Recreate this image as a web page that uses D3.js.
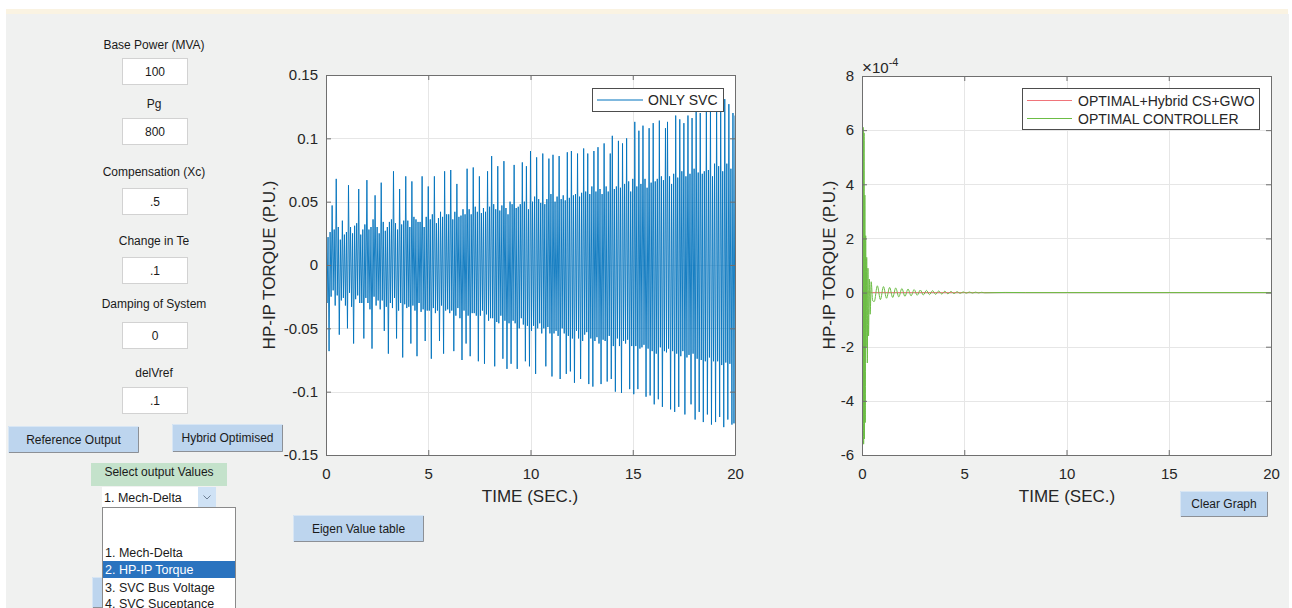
<!DOCTYPE html>
<html>
<head>
<meta charset="utf-8">
<script src="https://cdn.jsdelivr.net/npm/d3@7"></script>
<style>
  html, body { margin: 0; padding: 0; background: #ffffff; }
  svg { display: block; font-family: "Liberation Sans", Arial, Helvetica, sans-serif; }
</style>
</head>
<body>
<svg id="chart" width="1292" height="608"></svg>
<script>
// ---------------- DATA ----------------
// Left axes: ONLY SVC, HP-IP torque (p.u.), sampled every 0.05 s from 0 to 20 s
const svcTimeStep = 0.05;
const svcValues = [
  0.057,-0.030,0.022,-0.068,0.026,-0.025,0.047,-0.020,0.028,-0.032,0.068,-0.024,0.030,-0.055,0.020,-0.028,0.035,-0.026,0.024,-0.032,
  0.026,-0.050,0.063,-0.022,0.030,-0.033,0.025,-0.062,0.031,-0.027,0.033,-0.024,0.060,-0.030,0.024,-0.030,0.028,-0.058,0.032,-0.026,
  0.067,-0.030,0.028,-0.035,0.030,-0.066,0.036,-0.025,0.055,-0.032,0.030,-0.028,0.025,-0.035,0.065,-0.028,0.034,-0.052,0.027,-0.033,
  0.030,-0.070,0.034,-0.030,0.036,-0.034,0.074,-0.026,0.033,-0.058,0.028,-0.036,0.060,-0.030,0.032,-0.073,0.035,-0.031,0.070,-0.034,
  0.035,-0.033,0.030,-0.062,0.066,-0.032,0.038,-0.036,0.036,-0.072,0.034,-0.030,0.034,-0.037,0.070,-0.035,0.030,-0.060,0.038,-0.036,
  0.062,-0.036,0.036,-0.074,0.040,-0.034,0.070,-0.038,0.033,-0.036,0.037,-0.060,0.042,-0.032,0.038,-0.070,0.074,-0.036,0.040,-0.035,
  0.040,-0.038,0.075,-0.036,0.036,-0.068,0.042,-0.040,0.064,-0.034,0.038,-0.042,0.039,-0.075,0.044,-0.036,0.040,-0.062,0.076,-0.040,
  0.044,-0.072,0.040,-0.038,0.077,-0.038,0.046,-0.040,0.042,-0.076,0.070,-0.040,0.041,-0.036,0.045,-0.078,0.042,-0.039,0.074,-0.044,
  0.046,-0.042,0.086,-0.042,0.048,-0.080,0.044,-0.045,0.078,-0.046,0.043,-0.040,0.047,-0.074,0.082,-0.044,0.045,-0.082,0.040,-0.046,
  0.050,-0.078,0.048,-0.044,0.079,-0.046,0.045,-0.082,0.046,-0.050,0.048,-0.042,0.081,-0.047,0.050,-0.076,0.078,-0.048,0.044,-0.080,
  0.090,-0.052,0.050,-0.048,0.054,-0.086,0.085,-0.050,0.052,-0.046,0.049,-0.054,0.088,-0.050,0.048,-0.080,0.052,-0.049,0.084,-0.054,
  0.056,-0.088,0.087,-0.054,0.050,-0.052,0.054,-0.056,0.086,-0.090,0.052,-0.050,0.055,-0.054,0.051,-0.086,0.089,-0.056,0.053,-0.084,
  0.090,-0.058,0.055,-0.093,0.056,-0.052,0.088,-0.058,0.054,-0.090,0.057,-0.060,0.092,-0.055,0.058,-0.053,0.088,-0.094,0.056,-0.058,
  0.062,-0.096,0.090,-0.060,0.058,-0.057,0.093,-0.062,0.060,-0.094,0.056,-0.059,0.096,-0.060,0.062,-0.092,0.058,-0.056,0.088,-0.090,
  0.102,-0.064,0.060,-0.100,0.062,-0.058,0.098,-0.064,0.061,-0.101,0.096,-0.060,0.064,-0.062,0.100,-0.059,0.066,-0.098,0.058,-0.064,
  0.068,-0.102,0.113,-0.064,0.062,-0.098,0.106,-0.066,0.064,-0.065,0.110,-0.063,0.068,-0.104,0.061,-0.066,0.108,-0.103,0.065,-0.068,
  0.112,-0.110,0.066,-0.070,0.068,-0.106,0.114,-0.065,0.070,-0.112,0.067,-0.068,0.108,-0.069,0.113,-0.066,0.070,-0.114,0.064,-0.068,
  0.072,-0.116,0.118,-0.070,0.069,-0.112,0.115,-0.072,0.074,-0.068,0.112,-0.118,0.070,-0.073,0.118,-0.071,0.072,-0.110,0.116,-0.070,
  0.076,-0.122,0.124,-0.074,0.073,-0.116,0.120,-0.075,0.072,-0.124,0.074,-0.076,0.122,-0.118,0.075,-0.073,0.124,-0.126,0.070,-0.076,
  0.080,-0.124,0.128,-0.076,0.078,-0.120,0.126,-0.079,0.074,-0.128,0.131,-0.077,0.080,-0.122,0.127,-0.078,0.076,-0.126,0.120,-0.125,
  0.118
];

// Right axes (values in units of 1e-4 p.u.)
const optGreenTime = [0,0.02,0.04,0.06,0.08,0.10,0.12,0.14,0.16,0.18,0.20,0.23,0.26,0.29,0.32,0.36,0.40,0.45,0.52,
  0.60,0.75,0.90,1.05,1.20,1.35,1.50,1.65,1.80,1.95,2.10,2.25,2.40,2.55,2.70,2.85,3.00,3.15,3.30,3.45,3.60,3.75,3.90,4.05,4.20,4.35,4.50,4.65,4.80,4.95,5.10,5.25,5.40,5.55,5.70,5.85,6.00,
  7.0,8.0,20.0];
const optGreenValues = [0,4.5,-4.2,6.1,-5.6,5.9,-5.4,3.6,-4.8,2.1,-2.0,1.3,-2.6,0.9,-1.6,0.5,-0.8,0.4,-0.3,
  -0.33,0.25,-0.26,0.22,-0.21,0.19,-0.18,0.17,-0.16,0.15,-0.14,0.13,-0.12,0.11,-0.10,0.095,-0.09,0.08,-0.075,0.07,-0.065,0.06,-0.055,0.05,-0.045,0.04,-0.036,0.032,-0.028,0.025,-0.022,0.02,-0.017,0.015,-0.012,0.01,-0.008,
  0.004,0,0];
const hybridRedTime = [0,0.1,0.2,0.3,0.5,20];
const hybridRedValues = [0,0.05,-0.04,0.02,0,0];

const leftYTicks = [-0.15,-0.1,-0.05,0,0.05,0.1,0.15];
const rightYTicks = [-6,-4,-2,0,2,4,6,8];
const xTicks = [0,5,10,15,20];

const inputLabels = ["Base Power (MVA)","Pg","Compensation (Xc)","Change in Te","Damping of System","delVref"];
const inputValues = ["100","800",".5",".1","0",".1"];
const listItems = ["1. Mech-Delta","2. HP-IP Torque","3. SVC Bus Voltage","4. SVC Suceptance"];

// ---------------- DRAW ----------------
const svg = d3.select("#chart");
const FONT = '"Liberation Sans", Arial, Helvetica, sans-serif';
const TXT = "#262626";

// background
svg.append("rect").attr("x",0).attr("y",0).attr("width",1292).attr("height",608).attr("fill","#ffffff");
svg.append("rect").attr("x",6).attr("y",9).attr("width",1282).attr("height",5).attr("fill","#faf3e2");
svg.append("rect").attr("x",6).attr("y",14).attr("width",1283).attr("height",594).attr("fill","#f0f1f0");

// ---- left controls ----
const labelY = [45,104,172,241,304,373];
const boxY = [58,118,188,257,322,387];
inputLabels.forEach((t,i)=>{
  svg.append("text").attr("x",154).attr("y",labelY[i]+4).attr("text-anchor","middle")
    .attr("font-size",12).attr("fill","#1a1a1a").text(t);
  svg.append("rect").attr("x",122.5).attr("y",boxY[i]+0.5).attr("width",65).attr("height",26)
    .attr("fill","#ffffff").attr("stroke","#d2d2d2");
  svg.append("text").attr("x",155).attr("y",boxY[i]+17.5).attr("text-anchor","middle")
    .attr("font-size",12).attr("fill","#1a1a1a").text(inputValues[i]);
});

function button(x,y,w,h,label){
  const g = svg.append("g");
  g.append("rect").attr("x",x).attr("y",y).attr("width",w).attr("height",h).attr("fill","#bdd5ee");
  g.append("path").attr("d",`M${x},${y+h-0.5}H${x+w-0.5}V${y}`).attr("fill","none").attr("stroke","#8c9096").attr("stroke-width",1);
  g.append("path").attr("d",`M${x+0.5},${y+h}V${y+0.5}H${x+w}`).attr("fill","none").attr("stroke","#d8e6f4").attr("stroke-width",1);
  if(label) g.append("text").attr("x",x+w/2).attr("y",y+h/2+4.3).attr("text-anchor","middle")
    .attr("font-size",12).attr("fill","#1a1a1a").text(label);
}
button(8,426,131,27,"Reference Output");
button(172,424,111,28,"Hybrid Optimised");
button(293,515,131,27,"Eigen Value table");
button(1180,491,88,26,"Clear Graph");
button(92,577,20,31,"");

// select output values
svg.append("rect").attr("x",91).attr("y",463).attr("width",136).attr("height",23).attr("fill","#c4e2cb");
svg.append("text").attr("x",159).attr("y",476).attr("text-anchor","middle").attr("font-size",12).attr("fill","#1a1a1a").text("Select output Values");

// dropdown
svg.append("rect").attr("x",102).attr("y",487).attr("width",114).attr("height",20).attr("fill","#ffffff");
svg.append("rect").attr("x",198).attr("y",487).attr("width",18).attr("height",20).attr("fill","#cfe2f5");
svg.append("path").attr("d","M203.5,495.5 L207,499 L210.5,495.5").attr("fill","none").attr("stroke","#6d7f94").attr("stroke-width",1);
svg.append("text").attr("x",104).attr("y",501.5).attr("font-size",12.5).attr("fill","#1a1a1a").text("1. Mech-Delta");

// listbox
svg.append("rect").attr("x",102.5).attr("y",507.5).attr("width",133).attr("height",110).attr("fill","#ffffff").attr("stroke","#8a8a8a");
svg.append("rect").attr("x",103).attr("y",561).attr("width",132).attr("height",17).attr("fill","#2a73bf");
const listY = [552,569.5,587,603];
listItems.forEach((t,i)=>{
  svg.append("text").attr("x",105).attr("y",listY[i]+4.5).attr("font-size",12.5)
    .attr("fill", i===1 ? "#ffffff" : "#1a1a1a").text(t);
});

// ---- axes helper ----
function makeAxes(cfg){
  const {x0,x1,y0,y1,yDomain,yTicks,id} = cfg;
  const x = d3.scaleLinear().domain([0,20]).range([x0,x1]);
  const y = d3.scaleLinear().domain(yDomain).range([y1,y0]);
  const g = svg.append("g");
  g.append("rect").attr("x",x0).attr("y",y0).attr("width",x1-x0).attr("height",y1-y0).attr("fill","#ffffff");
  g.append("g").selectAll("line").data(xTicks.slice(1,-1)).join("line")
    .attr("x1",d=>Math.round(x(d))+0.5).attr("x2",d=>Math.round(x(d))+0.5).attr("y1",y0).attr("y2",y1)
    .attr("stroke","#e6e6e6").attr("stroke-width",1);
  g.append("g").selectAll("line").data(yTicks.slice(1,-1)).join("line")
    .attr("y1",d=>Math.round(y(d))+0.5).attr("y2",d=>Math.round(y(d))+0.5).attr("x1",x0).attr("x2",x1)
    .attr("stroke","#e6e6e6").attr("stroke-width",1);
  svg.append("defs").append("clipPath").attr("id",id).append("rect")
    .attr("x",x0).attr("y",y0).attr("width",x1-x0).attr("height",y1-y0);
  return {x,y,g};
}
function finishAxes(a,cfg){
  const {x0,x1,y0,y1,yTicks,yFmt} = cfg;
  const {x,y} = a;
  const sty = sel => {
    sel.selectAll(".domain").attr("stroke","#6f6f6f");
    sel.selectAll(".tick line").attr("stroke","#6f6f6f");
    sel.selectAll("text").attr("font-size",15).attr("fill",TXT).attr("font-family",FONT);
  };
  svg.append("g").attr("transform",`translate(${x0},0)`)
    .call(d3.axisLeft(y).tickValues(yTicks).tickSize(-5).tickPadding(8).tickFormat(yFmt).tickSizeOuter(0)).call(sty);
  svg.append("g").attr("transform",`translate(${x1},0)`)
    .call(d3.axisRight(y).tickValues(yTicks).tickSize(-5).tickFormat("").tickSizeOuter(0)).call(sty);
  svg.append("g").attr("transform",`translate(0,${y1})`)
    .call(d3.axisBottom(x).tickValues(xTicks).tickSize(-5).tickPadding(13).tickFormat(d=>String(d)).tickSizeOuter(0)).call(sty);
  svg.append("g").attr("transform",`translate(0,${y0})`)
    .call(d3.axisTop(x).tickValues(xTicks).tickSize(-5).tickFormat("").tickSizeOuter(0)).call(sty);
}

// ---- left plot ----
const cfgL = {x0:326,x1:735,y0:75,y1:455,yDomain:[-0.15,0.15],yTicks:leftYTicks,
  yFmt:d=>String(+d.toFixed(2)),id:"clipL"};
const L = makeAxes(cfgL);
const svcData = svcValues.map((v,i)=>({t:i*svcTimeStep, v}));
L.g.append("path").datum(svcData).attr("clip-path","url(#clipL)")
  .attr("d",d3.line().x(d=>L.x(d.t)).y(d=>L.y(d.v)))
  .attr("fill","none").attr("stroke","#0072bd").attr("stroke-width",1).attr("stroke-opacity",0.9);
finishAxes(L,cfgL);

// legend left
svg.append("rect").attr("x",592.5).attr("y",88.5).attr("width",131).attr("height",23).attr("fill","#ffffff").attr("stroke","#4d4d4d");
svg.append("line").attr("x1",597).attr("x2",643).attr("y1",100).attr("y2",100).attr("stroke","#0072bd").attr("stroke-width",1);
svg.append("text").attr("x",648).attr("y",105).attr("font-size",14).attr("fill",TXT).text("ONLY SVC");

svg.append("text").attr("transform","translate(275,265) rotate(-90)").attr("text-anchor","middle")
  .attr("font-size",17).attr("fill",TXT).text("HP-IP TORQUE (P.U.)");
svg.append("text").attr("x",530).attr("y",502).attr("text-anchor","middle")
  .attr("font-size",17).attr("fill",TXT).text("TIME (SEC.)");

// ---- right plot ----
const cfgR = {x0:862,x1:1271,y0:76,y1:455,yDomain:[-6,8],yTicks:rightYTicks,
  yFmt:d=>String(d),id:"clipR"};
const R = makeAxes(cfgR);
const redData = hybridRedTime.map((t,i)=>({t, v:hybridRedValues[i]}));
const greenData = optGreenTime.map((t,i)=>({t, v:optGreenValues[i]}));
const lineR = d3.line().x(d=>R.x(d.t)).y(d=>R.y(d.v)).curve(d3.curveMonotoneX);
R.g.append("path").datum(redData).attr("clip-path","url(#clipR)").attr("d",lineR)
  .attr("fill","none").attr("stroke","#f0747a").attr("stroke-width",1);
R.g.append("path").datum(greenData).attr("clip-path","url(#clipR)").attr("d",lineR)
  .attr("fill","none").attr("stroke","#6cbd45").attr("stroke-width",1);
finishAxes(R,cfgR);

// exponent label
const ex = svg.append("text").attr("x",862).attr("y",73).attr("font-size",15).attr("fill",TXT);
ex.append("tspan").attr("font-size",17).text("\u00d7");
ex.append("tspan").text("10");
ex.append("tspan").attr("dy",-7).attr("font-size",11).text("-4");

// legend right
svg.append("rect").attr("x",1022.5).attr("y",88.5).attr("width",237).attr("height",41).attr("fill","#ffffff").attr("stroke","#4d4d4d");
svg.append("line").attr("x1",1027).attr("x2",1072).attr("y1",100.5).attr("y2",100.5).attr("stroke","#f0747a").attr("stroke-width",1);
svg.append("text").attr("x",1078).attr("y",105.5).attr("font-size",14).attr("fill",TXT).text("OPTIMAL+Hybrid CS+GWO");
svg.append("line").attr("x1",1027).attr("x2",1072).attr("y1",118.5).attr("y2",118.5).attr("stroke","#6cbd45").attr("stroke-width",1);
svg.append("text").attr("x",1078).attr("y",123.5).attr("font-size",14).attr("fill",TXT).text("OPTIMAL CONTROLLER");

svg.append("text").attr("transform","translate(835,265) rotate(-90)").attr("text-anchor","middle")
  .attr("font-size",17).attr("fill",TXT).text("HP-IP TORQUE (P.U.)");
svg.append("text").attr("x",1067).attr("y",502).attr("text-anchor","middle")
  .attr("font-size",17).attr("fill",TXT).text("TIME (SEC.)");
</script>
</body>
</html>
